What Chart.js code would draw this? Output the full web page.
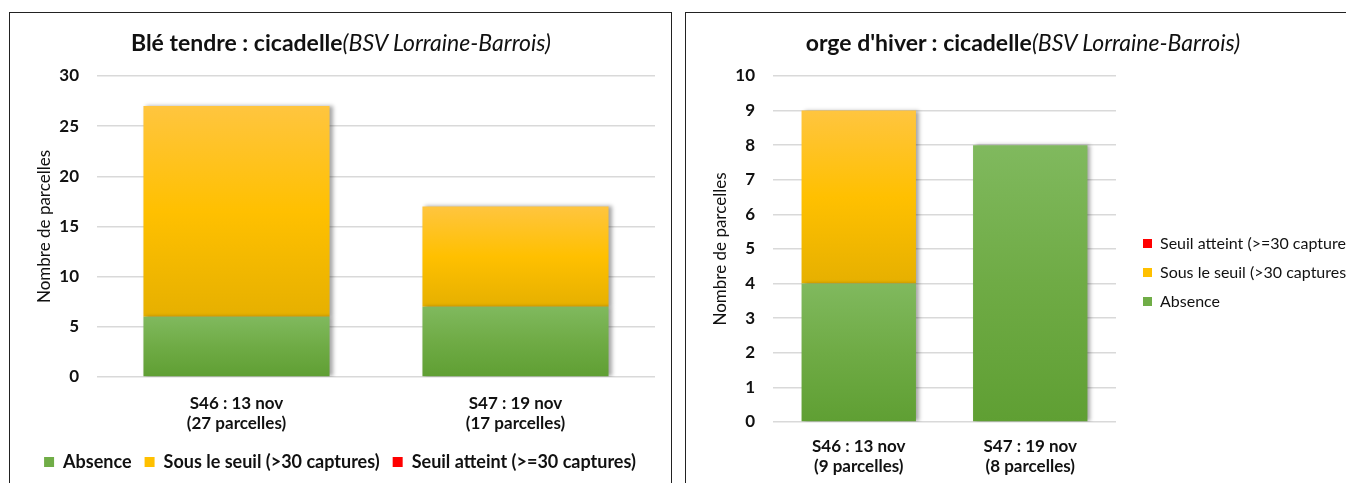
<!DOCTYPE html>
<html>
<head>
<meta charset="utf-8">
<script src="https://cdn.jsdelivr.net/npm/chart.js@4/dist/chart.umd.min.js"></script>
<style>
  html, body { margin: 0; padding: 0; background: #fff; overflow: hidden; width: 1346px; height: 483px; }
  .box { position: absolute; top: 12px; border: 1.5px solid #222; border-bottom: none; background: #fff; }
  #boxL { left: 9px; width: 661px; height: 480px; }
  #boxR { left: 685px; width: 700px; height: 480px; border-right: none; }
  .title { position: absolute; top: 28px; width: 660px; text-align: center; font-family: Lato, "Liberation Sans", sans-serif; font-size: 23px; color: #111; white-space: nowrap; }
  .title b { font-weight: bold; }
  .title i { font-weight: normal; font-style: italic; }
  #wrapL { position: absolute; left: 10px; top: 13px; width: 660px; height: 470px; }
  #wrapR { position: absolute; left: 687px; top: 13px; width: 700px; height: 470px; }
</style>
</head>
<body>
<div class="box" id="boxL"></div>
<div class="box" id="boxR"></div>
<div id="wrapL"><canvas id="chartL"></canvas></div>
<div id="wrapR"><canvas id="chartR"></canvas></div>
<div class="title" style="left:11px"><b>Blé tendre : cicadelle</b><i>(BSV Lorraine-Barrois)</i></div>
<div class="title" style="left:693px"><b>orge d'hiver : cicadelle</b><i>(BSV Lorraine-Barrois)</i></div>
<script>
// --- data ---
var seriesNames = ["Absence", "Sous le seuil (>30 captures)", "Seuil atteint (>=30 captures)"];

var bleLabels = [["S46 : 13 nov", "(27 parcelles)"], ["S47 : 19 nov", "(17 parcelles)"]];
var bleAbsence = [6, 7];
var bleSous = [21, 10];
var bleAtteint = [0, 0];

var orgeLabels = [["S46 : 13 nov", "(9 parcelles)"], ["S47 : 19 nov", "(8 parcelles)"]];
var orgeAbsence = [4, 8];
var orgeSous = [5, 0];
var orgeAtteint = [0, 0];

var bleTicks = [0, 5, 10, 15, 20, 25, 30];
var orgeTicks = [0, 1, 2, 3, 4, 5, 6, 7, 8, 9, 10];

var FONT = 'Lato, "Liberation Sans", sans-serif';

// excel-like vertical gradient: light top, base middle, darker bottom
var gradStops = {
  green: ['#80b95e', '#6fab45', '#5f9f33'],
  orange: ['#ffc53f', '#ffc000', '#e6b000'],
  red: ['#ff0000', '#ff0000', '#ff0000']
};

function segGradient(key) {
  return function (ctx) {
    var chart = ctx.chart;
    var s = gradStops[key];
    if (ctx.type !== 'data' || !chart.scales || !chart.scales.y) return s[1];
    var i = ctx.dataIndex, d = ctx.datasetIndex;
    var base = 0;
    for (var k = 0; k < d; k++) base += chart.data.datasets[k].data[i];
    var val = chart.data.datasets[d].data[i];
    var y = chart.scales.y;
    var top = y.getPixelForValue(base + val), bot = y.getPixelForValue(base);
    if (!isFinite(top) || !isFinite(bot) || top === bot) return s[1];
    var g = chart.ctx.createLinearGradient(0, top, 0, bot);
    g.addColorStop(0, s[0]);
    g.addColorStop(0.5, s[1]);
    g.addColorStop(1, s[2]);
    return g;
  };
}

var shadowPlugin = {
  id: 'barShadow',
  beforeDatasetsDraw: function (chart) {
    var c = chart.ctx;
    c.save();
    c.shadowColor = 'rgba(0,0,0,0.35)';
    c.shadowBlur = 4;
    c.shadowOffsetX = 3;
    c.shadowOffsetY = 0;
  },
  afterDatasetsDraw: function (chart) { chart.ctx.restore(); }
};

// nudge the side legend of the right chart (gap from plot, vertical centre)
// and widen its clip box so the long label runs off the page like the original
var legendNudge = {
  id: 'legendNudge',
  afterLayout: function (chart) {
    var lg = chart.legend;
    if (!lg || lg.options.position !== 'right') return;
    lg.left += 14; lg.right += 60;
    lg.top -= 7; lg.bottom -= 7;
  }
};

function makeDatasets(a, s, t) {
  return [
    { label: seriesNames[0], data: a, backgroundColor: segGradient('green'), borderWidth: 0 },
    { label: seriesNames[1], data: s, backgroundColor: segGradient('orange'), borderWidth: 0 },
    { label: seriesNames[2], data: t, backgroundColor: segGradient('red'), borderWidth: 0 }
  ];
}

function legendLabels(chart) {
  var keys = ['#70ad47', '#ffc000', '#ff0000'];
  return chart.data.datasets.map(function (ds, i) {
    return { text: ds.label, fillStyle: keys[i], strokeStyle: keys[i], lineWidth: 0, datasetIndex: i, hidden: false, fontColor: '#111' };
  });
}

function yScale(max, ticksArr, width, titlePad) {
  return {
    stacked: true, min: 0, max: max,
    afterBuildTicks: function (sc) { sc.ticks = ticksArr.map(function (v) { return { value: v }; }); },
    afterFit: function (sc) { sc.width = width; },
    grid: { color: '#d9d9d9', lineWidth: 1.5, drawTicks: false },
    border: { display: false },
    ticks: { padding: 18, color: '#111', font: { family: FONT, size: 17, weight: 'bold' } },
    title: { display: true, text: 'Nombre de parcelles', color: '#111', font: { family: FONT, size: 17 }, padding: { top: titlePad, bottom: 0 } }
  };
}

function xScale(height, pad) {
  return {
    stacked: true,
    afterFit: function (sc) { sc.height = height; },
    grid: { display: false, drawTicks: false },
    border: { display: false },
    ticks: { padding: pad, color: '#111', font: { family: FONT, size: 17, weight: 'bold' } }
  };
}

Chart.defaults.font.family = FONT;

new Chart(document.getElementById('chartL'), {
  type: 'bar',
  data: { labels: bleLabels, datasets: makeDatasets(bleAbsence, bleSous, bleAtteint) },
  options: {
    responsive: true, maintainAspectRatio: false, animation: false,
    datasets: { bar: { categoryPercentage: 0.667, barPercentage: 1 } },
    layout: { padding: { top: 63, right: 15, left: 15, bottom: 2 } },
    scales: { x: xScale(63, 16), y: yScale(30, bleTicks, 72, 9) },
    plugins: {
      tooltip: { enabled: false },
      legend: {
        position: 'bottom',
        labels: { boxWidth: 10, boxHeight: 10, padding: 13, color: '#111', font: { family: FONT, size: 18, weight: 'bold' }, generateLabels: legendLabels }
      }
    }
  },
  plugins: [shadowPlugin]
});

new Chart(document.getElementById('chartR'), {
  type: 'bar',
  data: { labels: orgeLabels, datasets: makeDatasets(orgeAbsence, orgeSous, orgeAtteint) },
  options: {
    responsive: true, maintainAspectRatio: false, animation: false,
    datasets: { bar: { categoryPercentage: 0.667, barPercentage: 1 } },
    layout: { padding: { top: 63, right: 71, left: 0, bottom: 0 } },
    scales: { x: xScale(61, 14), y: yScale(10, orgeTicks, 86, 23) },
    plugins: {
      tooltip: { enabled: false },
      legend: {
        position: 'right', reverse: true, maxWidth: 200,
        labels: { boxWidth: 9, boxHeight: 9, padding: 13, color: '#111', font: { family: FONT, size: 16 }, generateLabels: legendLabels }
      }
    }
  },
  plugins: [shadowPlugin, legendNudge]
});
</script>
</body>
</html>
